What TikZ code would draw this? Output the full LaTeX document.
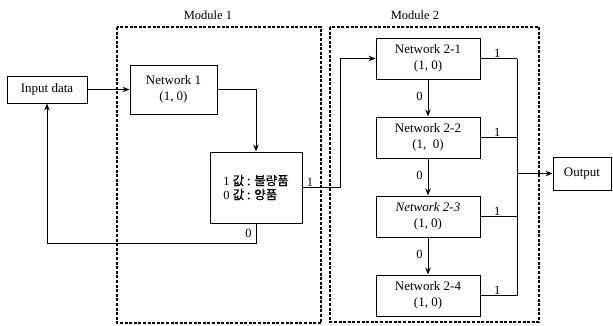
\documentclass[tikz,border=0pt]{standalone}
\usepackage{fontspec}
\setmainfont{Liberation Serif}
\newfontfamily\krfont[FakeBold=0.8]{Noto Sans CJK KR}
\usepackage{tikz}
\usetikzlibrary{arrows.meta, positioning}

\begin{document}
\begin{tikzpicture}[
    x=1pt, y=-1pt,
    node distance=37pt and 1.2cm,
    box/.style={rectangle, draw, line width=1pt, align=center, inner sep=2pt, font=\fontsize{13}{15.5}\selectfont},
    net/.style={box, minimum width=104pt, minimum height=41pt},
    module/.style={draw, line width=1.1pt, dash pattern=on 3pt off 1.6pt},
    arrow/.style={-{Stealth[length=7pt, width=5.5pt]}, line width=1pt},
    line/.style={line width=1pt},
    lbl/.style={inner sep=1pt, font=\fontsize{12.5}{14}\selectfont},
]
    \useasboundingbox (0,0) rectangle (613,325);

    \draw[module] (117,27) rectangle (321,323);
    \draw[module] (330,27) rectangle (539,322);
    \node[lbl] (mod1) at (208,15) {Module 1};
    \node[lbl] (mod2) at (415,15) {Module 2};

    \node[box, minimum width=80pt, minimum height=27pt] (input) at (47,89.5) {Input data};
    \node[box, minimum width=87pt, minimum height=49pt] (net1) at (173.5,89.5) {Network 1\\(1, 0)};
    \node[box, minimum width=92pt, minimum height=71pt, align=left, font=\fontsize{12.5}{14}\selectfont] (judge) at (256,187.5)
        {1\ {\krfont 값 : 불량품}\\0\ {\krfont 값 : 양품}\hspace{4pt}};

    \node[net] (net21) at (428,58.5) {Network 2-1\\(1, 0)};
    \node[net, below=of net21] (net22) {Network 2-2\\(1,\ \ 0)};
    \node[net, below=of net22] (net23) {\textit{Network 2-3}\\(1, 0)};
    \node[net, below=of net23] (net24) {Network 2-4\\(1, 0)};

    \node[box, minimum width=58pt, minimum height=33pt] (output) at (582,173.5) {Output};
    \coordinate (bus) at (517,173.5);

    \draw[arrow] (input) -- (net1);
    \draw[arrow] (net1.east) -| (judge.north);
    \draw[arrow] (judge.east) -- node[lbl, above, pos=0.2] {1} ++(38,0) |- (net21.west);
    \draw[arrow] (judge.south) -- node[lbl, left=3pt, pos=0.5] {0} ++(0,20) -| (input.south);

    \foreach \a/\b in {net21/net22, net22/net23, net23/net24}
        \draw[arrow] (\a) -- node[lbl, left=4pt, pos=0.45] {0} (\b);

    \foreach \n in {net21, net22, net23, net24}
        \draw[line] (\n.east) -- node[lbl, above, pos=0.46] {1} (\n.east -| bus);
    \draw[line] (net21.east -| bus) -- (net24.east -| bus);
    \draw[arrow] (bus) -- (output);
\end{tikzpicture}
\end{document}
